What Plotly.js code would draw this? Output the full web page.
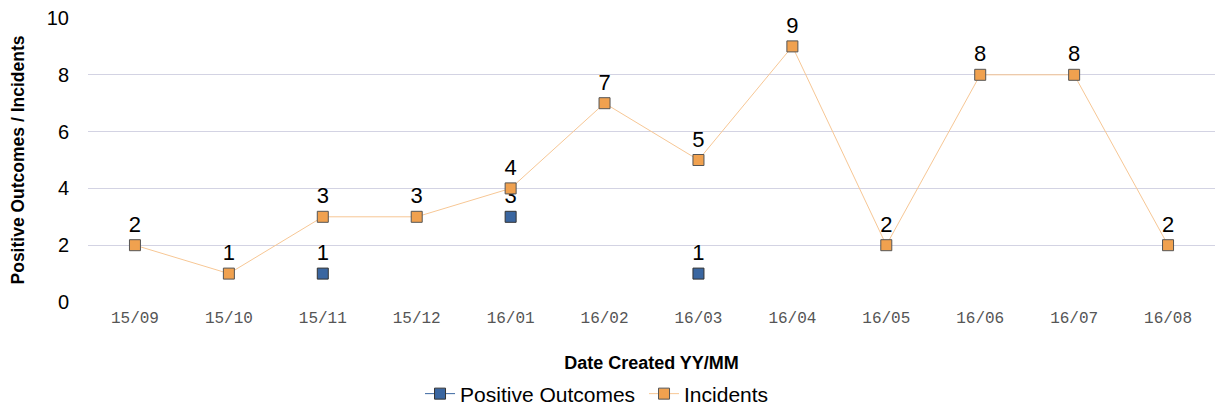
<!DOCTYPE html>
<html>
<head>
<meta charset="utf-8">
<script src="https://cdn.plot.ly/plotly-3.0.1.min.js"></script>
<style>
  html, body { margin: 0; padding: 0; background: #fff; }
  #chart { width: 1215px; height: 407px; }
</style>
</head>
<body>
<div id="chart"></div>
<script>
// months on the x axis
const months = ["15/09", "15/10", "15/11", "15/12", "16/01", "16/02",
    "16/03", "16/04", "16/05", "16/06", "16/07", "16/08"];

// positive outcomes only exist for three months
const positiveOutcomes = [null, null, 1, null, 3, null, 1, null, null, null, null, null];
const incidents = [2, 1, 3, 3, 4, 7, 5, 9, 2, 8, 8, 2];

const blue = "#3a66a0";
const orange = "#f0a14f";

const labelFont = {family: "Liberation Sans, Arial, sans-serif", size: 22, color: "#000"};

const posTrace = {
    x: months,
    y: positiveOutcomes,
    name: "Positive Outcomes",
    mode: "lines+markers+text",
    type: "scatter",
    connectgaps: false,
    text: positiveOutcomes.map(v => v == null ? "" : String(v)),
    textposition: "top center",
    textfont: labelFont,
    line: {color: blue, width: 1},
    marker: {symbol: "square", size: 11, color: blue, line: {color: "#333", width: 1}},
    cliponaxis: false
};

const incTrace = {
    x: months,
    y: incidents,
    name: "Incidents",
    mode: "lines+markers+text",
    type: "scatter",
    text: incidents.map(String),
    textposition: "top center",
    textfont: labelFont,
    line: {color: "#f7c795", width: 1},
    marker: {symbol: "square", size: 11, color: orange, line: {color: "#555", width: 1}},
    cliponaxis: false
};

const layout = {
    width: 1215,
    height: 407,
    margin: {l: 88, r: 0, t: 18, b: 105},
    paper_bgcolor: "#fff",
    plot_bgcolor: "#fff",
    font: {family: "Liberation Sans, Arial, sans-serif", color: "#000"},
    showlegend: true,
    legend: {
        orientation: "h",
        xref: "container", yref: "container",
        x: 0.3457, xanchor: "left",
        y: 0.032, yanchor: "middle",
        font: {size: 21, color: "#000"},
        itemwidth: 30,
        entrywidth: 179
    },
    xaxis: {
        type: "category",
        range: [-0.5, 11.5],
        showgrid: false,
        zeroline: false,
        showline: false,
        ticks: "",
        tickfont: {family: "Liberation Mono, DejaVu Sans Mono, monospace", size: 16, color: "#555"},
        ticklabelstandoff: 4,
        title: {
            text: "<b>Date Created YY/MM</b>",
            font: {size: 18, color: "#000"},
            standoff: 34
        }
    },
    yaxis: {
        range: [0, 10],
        dtick: 2,
        showgrid: true,
        gridcolor: "#d3d3e3",
        gridwidth: 1,
        zeroline: false,
        showline: false,
        ticks: "",
        tickfont: {size: 20, color: "#000"},
        ticklabelstandoff: 18,
        title: {
            text: "<b>Positive Outcomes / Incidents</b>",
            font: {size: 17.5, color: "#000"},
            standoff: 17
        }
    }
};

Plotly.newPlot("chart", [posTrace, incTrace], layout, {displayModeBar: false, staticPlot: true});
</script>
</body>
</html>
